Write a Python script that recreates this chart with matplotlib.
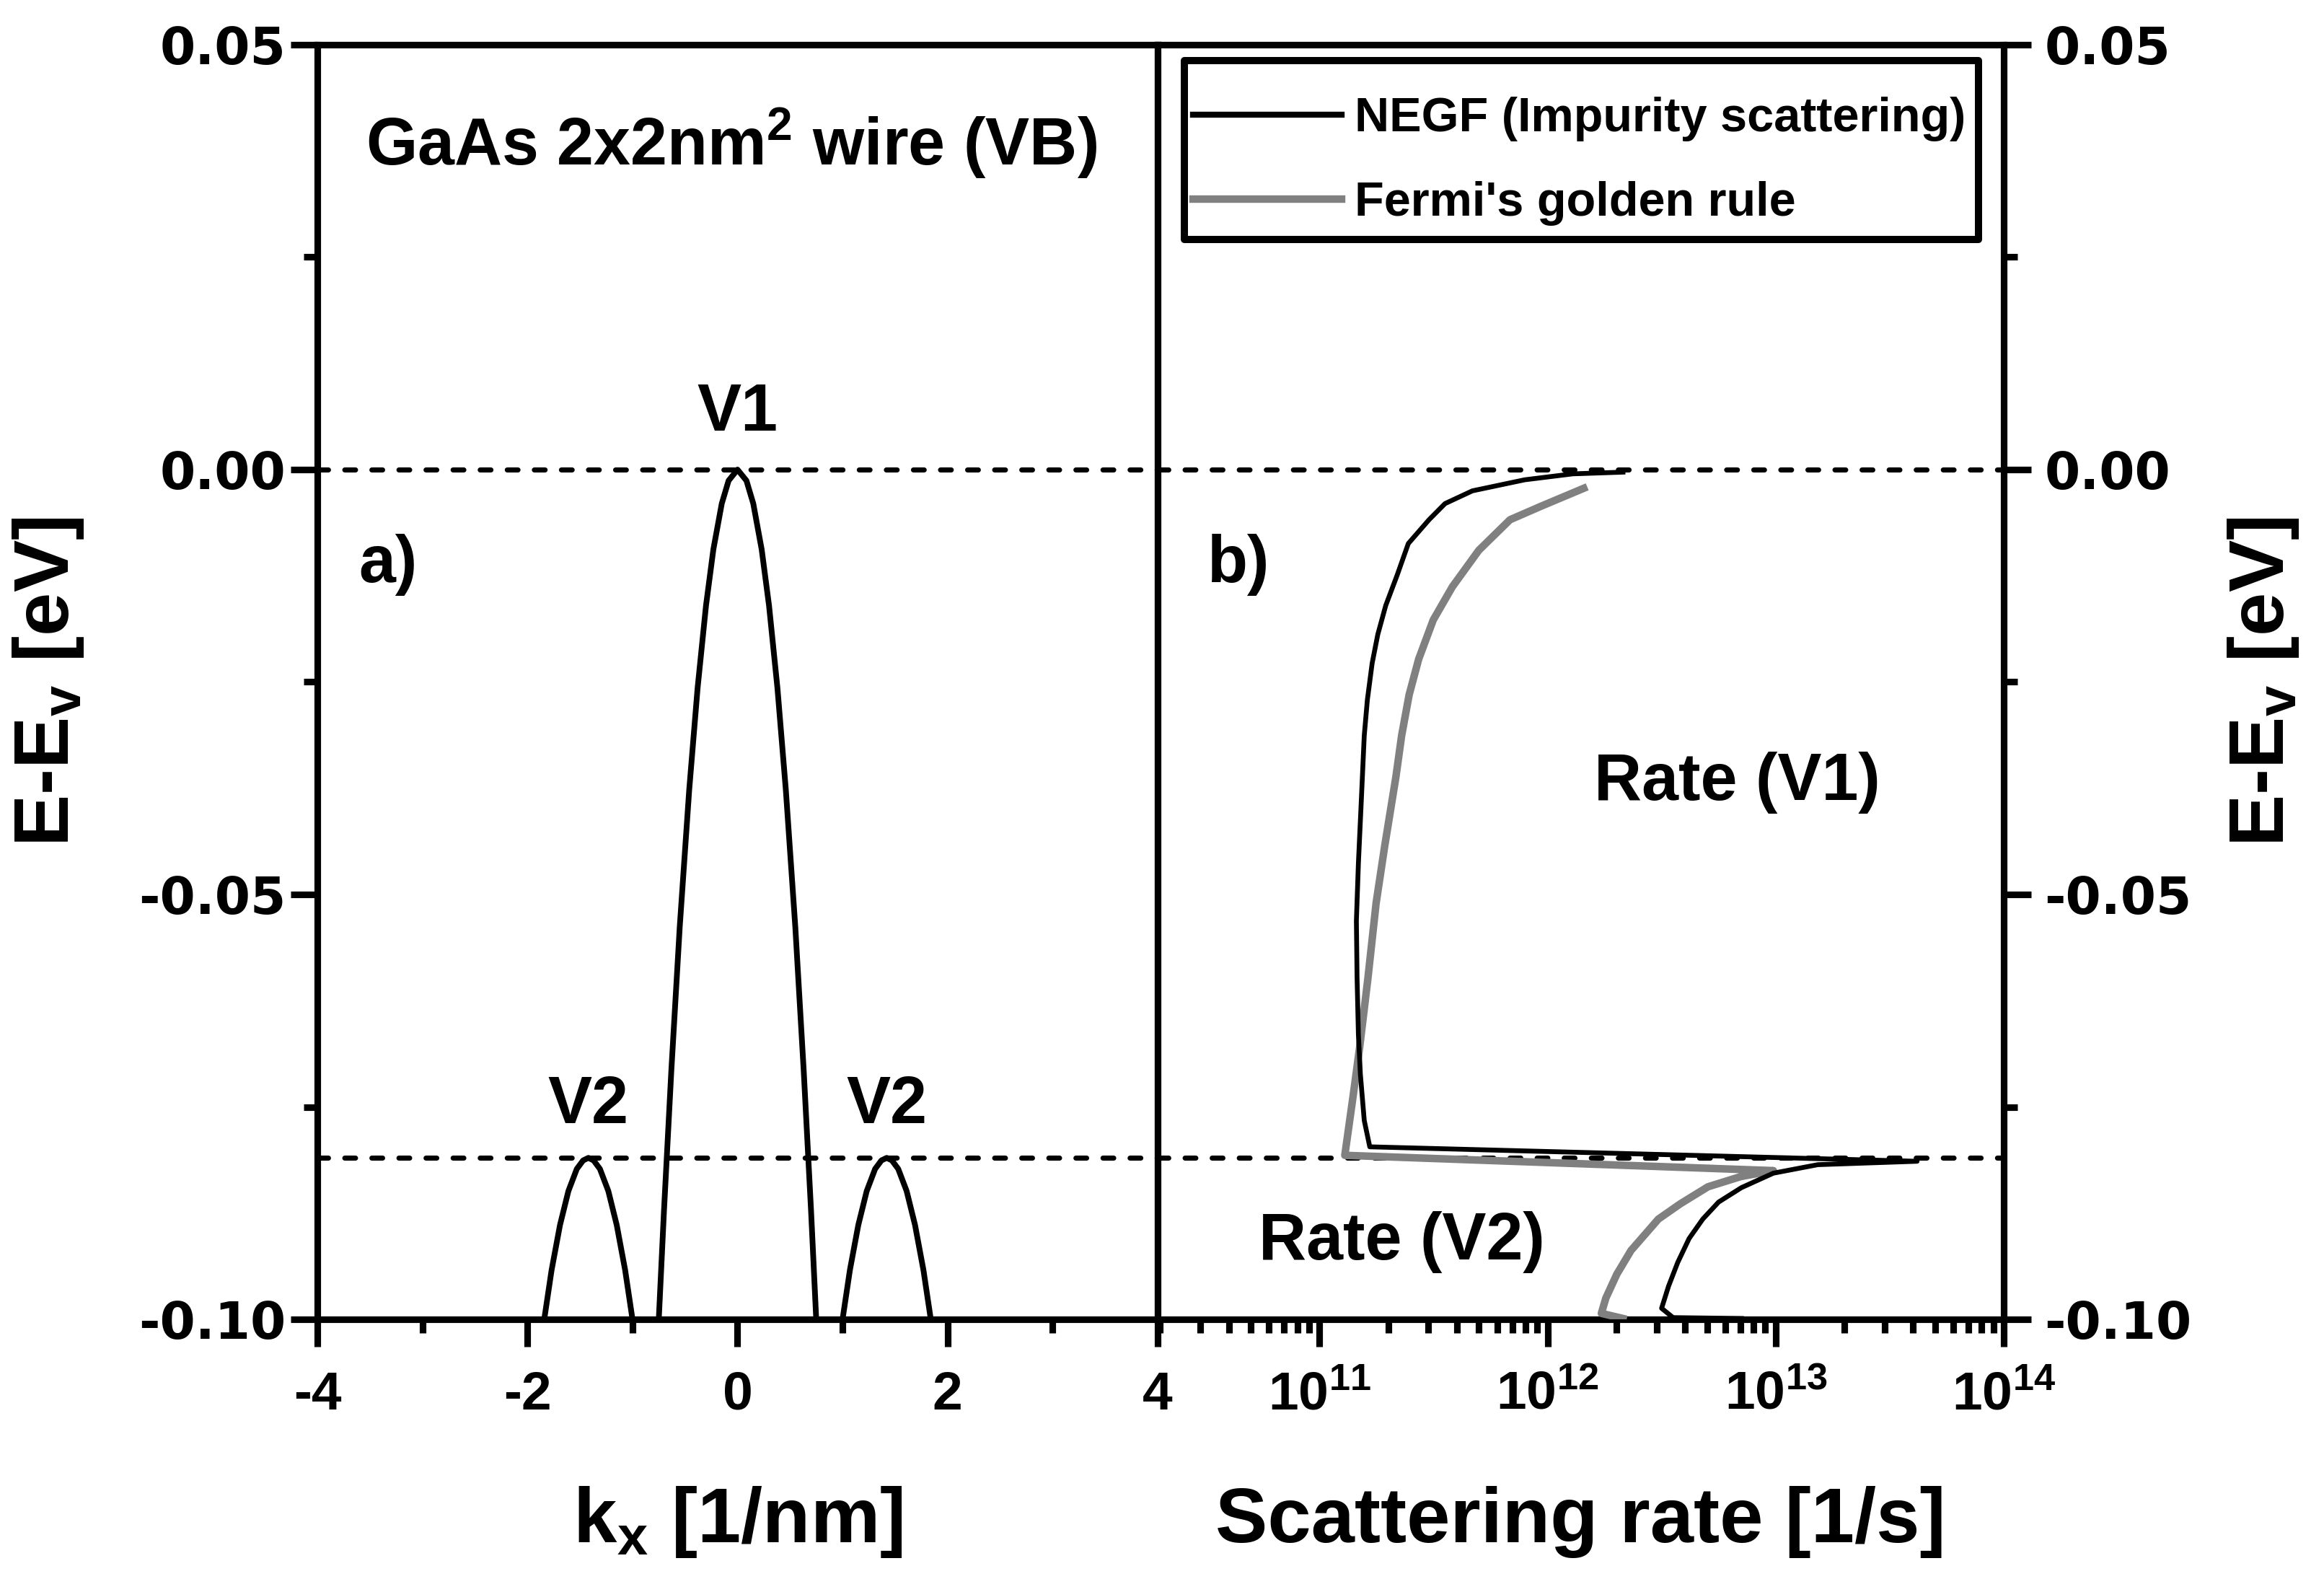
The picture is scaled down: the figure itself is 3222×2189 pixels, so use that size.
import matplotlib
matplotlib.use("Agg")
import matplotlib.pyplot as plt
from matplotlib.ticker import MultipleLocator, LogLocator, NullFormatter, FuncFormatter, FixedLocator
from matplotlib.patches import Rectangle
import numpy as np

# ---------------- data ----------------
# left panel: band structure E(k)
k_v1 = [-0.75, -0.70, -0.63, -0.55, -0.46, -0.38, -0.30, -0.23, -0.15, -0.085, 0.0,
        0.085, 0.15, 0.23, 0.30, 0.38, 0.46, 0.55, 0.63, 0.70, 0.755]
E_v1 = [-0.1001, -0.0872, -0.0707, -0.0538, -0.0377, -0.0257, -0.0160, -0.0094, -0.0040, -0.0013, 0.0,
        -0.0013, -0.0040, -0.0094, -0.0160, -0.0257, -0.0377, -0.0538, -0.0707, -0.0872, -0.1015]
k_v2_left = [-1.84, -1.77, -1.69, -1.61, -1.53, -1.47, -1.42, -1.37, -1.31, -1.23, -1.15, -1.07, -1.00]
k_v2_right = [1.00, 1.07, 1.15, 1.23, 1.31, 1.37, 1.42, 1.47, 1.53, 1.61, 1.69, 1.77, 1.84]
E_v2 = [-0.1000, -0.0942, -0.0889, -0.0849, -0.0823, -0.0813, -0.0810, -0.0813, -0.0823, -0.0849,
        -0.0889, -0.0942, -0.1000]

# band edges (dashed lines)
E_edges = [0.0, -0.081]

# right panel: scattering rates
negf_E = [-0.0003, -0.0005, -0.0012, -0.0025, -0.0040, -0.0059, -0.0087, -0.0124, -0.0160, -0.0194,
          -0.0228, -0.0271, -0.0313, -0.0396, -0.0463, -0.0531, -0.0598, -0.0665, -0.0712, -0.0766,
          -0.0797, -0.0814, -0.0818, -0.0828, -0.0845, -0.0862, -0.0882, -0.0905, -0.0933, -0.0961,
          -0.0987, -0.0998, -0.0999]
negf_rate = [2.14e12, 1.29e12, 7.94e11, 4.68e11, 3.55e11, 3.02e11, 2.45e11, 2.19e11, 1.95e11, 1.80e11,
             1.70e11, 1.62e11, 1.57e11, 1.52e11, 1.48e11, 1.45e11, 1.46e11, 1.48e11, 1.51e11, 1.57e11,
             1.66e11, 4.17e13, 1.53e13, 9.77e12, 7.08e12, 5.62e12, 4.79e12, 4.17e12, 3.72e12, 3.39e12,
             3.16e12, 3.55e12, 7.08e12]

fgr_E = [-0.0022, -0.0043, -0.0059, -0.0095, -0.0138, -0.0177, -0.0223, -0.0265, -0.0313, -0.0362,
         -0.0443, -0.0510, -0.0598, -0.0679, -0.0739, -0.0807, -0.0825, -0.0832, -0.0844, -0.0864,
         -0.0882, -0.0919, -0.0947, -0.0975, -0.0993, -0.0999]
fgr_rate = [1.44e12, 9.38e11, 6.84e11, 4.99e11, 3.82e11, 3.15e11, 2.72e11, 2.47e11, 2.29e11, 2.16e11,
            1.93e11, 1.77e11, 1.63e11, 1.50e11, 1.40e11, 1.29e11, 9.77e12, 7.03e12, 5.05e12, 3.82e12,
            3.06e12, 2.32e12, 2.01e12, 1.80e12, 1.72e12, 2.14e12]

legend_labels = ["NEGF (Impurity scattering)", "Fermi's golden rule"]
k_ticks = [-4, -2, 0, 2, 4]
E_ticks = [0.05, 0.00, -0.05, -0.10]
rate_ticks = [1e11, 1e12, 1e13, 1e14]

# ---------------- style ----------------
plt.rcParams['font.family'] = ['Liberation Sans', 'DejaVu Sans']
plt.rcParams['font.weight'] = 'bold'
plt.rcParams['axes.unicode_minus'] = False
plt.rcParams['mathtext.fontset'] = 'custom'
plt.rcParams['mathtext.rm'] = 'Liberation Sans:bold'
plt.rcParams['mathtext.it'] = 'Liberation Sans:bold:italic'
plt.rcParams['mathtext.bf'] = 'Liberation Sans:bold'

W, H = 3222, 2189
fig = plt.figure(figsize=(W / 300, H / 300), dpi=300)
axL = fig.add_axes([440 / W, 360 / H, 1165 / W, 1767 / H])
axR = fig.add_axes([1605 / W, 360 / H, 1173 / W, 1767 / H])

spine_lw = 2.2
dash = (0, (2.1, 3.2))

for ax in (axL, axR):
    for s in ax.spines.values():
        s.set_linewidth(spine_lw)
    ax.set_ylim(-0.10, 0.05)
    ax.yaxis.set_major_locator(FixedLocator(E_ticks))
    ax.yaxis.set_minor_locator(MultipleLocator(0.025))
    ax.tick_params(which='major', direction='out', length=9, width=spine_lw)
    ax.tick_params(which='minor', direction='out', length=4.5, width=spine_lw)
    for e in E_edges:
        ax.axhline(e, color='black', lw=1.7, linestyle=dash, dash_capstyle='round', zorder=1)

# ---- left panel ----
axL.plot(k_v1, E_v1, color='black', lw=1.9)
axL.plot(k_v2_left, E_v2, color='black', lw=1.9)
axL.plot(k_v2_right, E_v2, color='black', lw=1.9)
axL.set_xlim(-4, 4)
axL.xaxis.set_major_locator(FixedLocator(k_ticks))
axL.xaxis.set_minor_locator(MultipleLocator(1))
axL.tick_params(axis='both', which='both', top=False, right=False)
axL.tick_params(axis='y', labelsize=17, labelfontfamily='DejaVu Sans', pad=1.5)
axL.tick_params(axis='x', labelsize=18, pad=8)
axL.yaxis.set_major_formatter(FuncFormatter(lambda v, p: f"{v:.2f}"))
axL.set_xlabel(r'k$_{\rm x}$ [1/nm]', fontsize=26, fontweight='bold')
axL.xaxis.set_label_coords(0.5, -0.159)
axL.xaxis.label.set_va('center')
axL.set_ylabel(r'E-E$_{\rm v}$ [eV]', fontsize=26, fontweight='bold')
axL.yaxis.set_label_coords(-0.320, 0.5)
axL.yaxis.label.set_va('center')

axL.text(-3.54, 0.0384, r'GaAs 2x2nm$^{\rm 2}$ wire (VB)', fontsize=22, fontweight='bold',
         ha='left', va='center')
axL.text(0, 0.0066, 'V1', fontsize=22, fontweight='bold', ha='center', va='center')
axL.text(-1.42, -0.0749, 'V2', fontsize=22, fontweight='bold', ha='center', va='center')
axL.text(1.42, -0.0749, 'V2', fontsize=22, fontweight='bold', ha='center', va='center')
axL.text(-3.33, -0.0112, 'a)', fontsize=22, fontweight='bold', ha='center', va='center')

# ---- right panel ----
lnN, = axR.plot(negf_rate, negf_E, color='black', lw=1.6, zorder=4)
lnF, = axR.plot(fgr_rate, fgr_E, color='#808080', lw=2.5, zorder=3)
axR.set_xscale('log')
axR.set_xlim(1.95e10, 1e14)
axR.xaxis.set_major_locator(FixedLocator(rate_ticks))
axR.xaxis.set_minor_locator(LogLocator(base=10, subs=np.arange(2, 10), numticks=20))
axR.xaxis.set_minor_formatter(NullFormatter())
axR.xaxis.set_major_formatter(FuncFormatter(lambda v, p: r'$10^{%d}$' % int(round(np.log10(v)))))
axR.yaxis.tick_right()
axR.tick_params(axis='both', which='both', top=False, left=False)
axR.tick_params(axis='y', labelsize=17, labelfontfamily='DejaVu Sans', pad=4.5)
axR.tick_params(axis='x', labelsize=18, pad=8)
axR.yaxis.set_major_formatter(FuncFormatter(lambda v, p: f"{v:.2f}"))
axR.set_xlabel('Scattering rate [1/s]', fontsize=26, fontweight='bold')
axR.xaxis.set_label_coords(0.5, -0.159)
axR.xaxis.label.set_va('center')
axR.yaxis.set_label_position('right')
axR.set_ylabel(r'E-E$_{\rm v}$ [eV]', fontsize=26, fontweight='bold', rotation=90)
axR.yaxis.set_label_coords(1.307, 0.5)
axR.yaxis.label.set_va('center')

axR.text(4.4e10, -0.0112, 'b)', fontsize=22, fontweight='bold', ha='center', va='center')
axR.text(6.8e12, -0.0368, 'Rate (V1)', fontsize=22, fontweight='bold', ha='center', va='center')
axR.text(2.3e11, -0.0909, 'Rate (V2)', fontsize=22, fontweight='bold', ha='center', va='center')

leg = axR.legend([lnN, lnF], legend_labels, loc='center left', bbox_to_anchor=(0.042, 0.9085),
                 frameon=False, borderpad=0, borderaxespad=0, handlelength=3.08,
                 handletextpad=0.28, labelspacing=0.82, prop={'size': 16, 'weight': 'bold'})
leg.get_lines()[0].set_linewidth(2.0)
axR.add_patch(Rectangle((0.0315, 0.847), 0.9385, 0.1405, transform=axR.transAxes, fill=False,
                        lw=2.4, ec='black', zorder=6, joinstyle='round', clip_on=False))

fig.savefig('out.png', dpi=300, facecolor='white')
